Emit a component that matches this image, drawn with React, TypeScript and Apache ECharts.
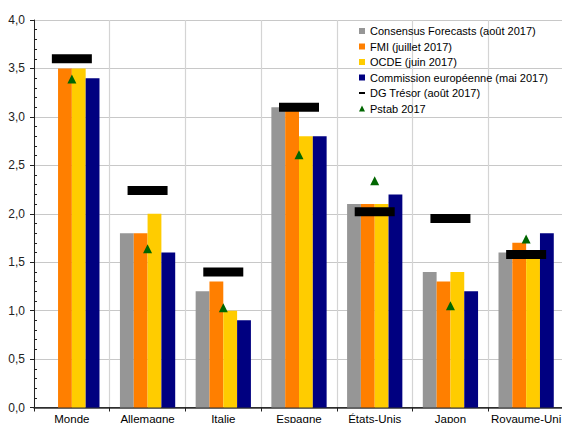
import React, { useEffect, useRef } from "react";
import * as echarts from "echarts";

// Croissance du PIB 2017 : prévisions par institution (%)
const categories = ["Monde", "Allemagne", "Italie", "Espagne", "États-Unis", "Japon", "Royaume-Uni"];
const consensus = [null, 1.8, 1.2, 3.1, 2.1, 1.4, 1.6];
const fmi = [3.5, 1.8, 1.3, 3.1, 2.1, 1.3, 1.7];
const ocde = [3.5, 2.0, 1.0, 2.8, 2.1, 1.4, 1.6];
const commission = [3.4, 1.6, 0.9, 2.8, 2.2, 1.2, 1.8];
const dgTresor = [3.6, 2.24, 1.4, 3.1, 2.02, 1.95, 1.58];
const pstab = [3.39, 1.64, 1.03, 2.61, 2.34, 1.05, 1.74];

const seriesNames = [
  "Consensus Forecasts (août 2017)",
  "FMI (juillet 2017)",
  "OCDE (juin 2017)",
  "Commission européenne (mai 2017)",
  "DG Trésor (août 2017)",
  "Pstab 2017",
];

const FONT = "'Liberation Sans', Arial, sans-serif";
// short horizontal dash used as the DG Trésor legend key
const DASH_ICON = "path://M0,0L0.01,0L0,0.01ZM0,10L0.01,10L0,10.01ZM0,3.5H10V6.5H0Z";

export default function App() {
  const ref = useRef<HTMLDivElement>(null);

  useEffect(() => {
    if (!ref.current) return;
    const chart = echarts.init(ref.current, null, { renderer: "svg" });

    const barSeries = (name: string, data: (number | null)[], color: string) => ({
      name,
      type: "bar",
      data,
      xAxisIndex: 0,
      yAxisIndex: 0,
      barGap: "0%",
      barCategoryGap: "27%",
      itemStyle: { color },
      z: 2,
    });

    chart.setOption({
      animation: false,
      textStyle: { fontFamily: FONT },
      grid: {
        left: 34,
        top: 20,
        width: 530,
        height: 387.5,
        containLabel: false,
        outerBoundsMode: "none",
      },
      legend: {
        orient: "vertical",
        left: 359,
        top: 24,
        padding: 0,
        itemWidth: 6,
        itemHeight: 6,
        itemGap: 1.5,
        textStyle: { fontSize: 11, color: "#000", fontFamily: FONT, lineHeight: 14 },
        data: [
          { name: seriesNames[0], icon: "rect" },
          { name: seriesNames[1], icon: "rect" },
          { name: seriesNames[2], icon: "rect" },
          { name: seriesNames[3], icon: "rect" },
          { name: seriesNames[4], icon: DASH_ICON },
          { name: seriesNames[5], icon: "triangle" },
        ],
      },
      xAxis: [
        {
          type: "category",
          data: categories,
          position: "bottom",
          boundaryGap: true,
          axisLine: { lineStyle: { color: "#222", width: 1 } },
          axisTick: { show: true, length: 4, interval: 0, lineStyle: { color: "#222" } },
          axisLabel: { interval: 0, margin: 5, fontSize: 11.5, color: "#000", fontFamily: FONT },
          splitLine: { show: true, interval: 0, lineStyle: { color: "#d4d4d4", width: 1.2 } },
        },
        {
          type: "category",
          data: categories,
          position: "top",
          axisLine: { lineStyle: { color: "#333", width: 1.5 } },
          axisTick: { show: false },
          axisLabel: { show: false },
          splitLine: { show: false },
        },
      ],
      yAxis: [
        {
          type: "value",
          min: 0,
          max: 4,
          interval: 0.5,
          axisLine: { show: true, lineStyle: { color: "#222", width: 1 } },
          axisTick: { show: true, length: 4, inside: false, lineStyle: { color: "#222" } },
          axisLabel: {
            margin: 9,
            fontSize: 12,
            color: "#222",
            fontFamily: FONT,
            formatter: (v: number) => v.toFixed(1).replace(".", ","),
          },
          splitLine: { show: true, lineStyle: { color: "#c8c8c8", width: 1 } },
        },
        {
          type: "value",
          position: "left",
          min: 0,
          max: 4,
          interval: 0.5,
          axisLine: { show: false },
          axisTick: { show: false, inside: true },
          minorTick: { show: true, splitNumber: 5, length: 3, lineStyle: { color: "#222" } },
          axisLabel: { show: false },
          splitLine: { show: false },
        },
      ],
      series: [
        barSeries(seriesNames[0], consensus, "#969696"),
        barSeries(seriesNames[1], fmi, "#ff7f00"),
        barSeries(seriesNames[2], ocde, "#ffcc00"),
        barSeries(seriesNames[3], commission, "#000080"),
        {
          name: seriesNames[4],
          type: "scatter",
          data: dgTresor,
          symbol: "rect",
          symbolSize: [40, 9],
          itemStyle: { color: "#000", opacity: 1 },
          z: 3,
        },
        {
          name: seriesNames[5],
          type: "scatter",
          data: pstab,
          symbol: "triangle",
          symbolSize: [9, 9],
          itemStyle: { color: "#006600", opacity: 1 },
          z: 4,
        },
      ],
    });

    return () => chart.dispose();
  }, []);

  return (
    <div
      ref={ref}
      style={{ position: "absolute", left: 0, top: 0, width: 562, height: 423, background: "#fff" }}
    />
  );
}
